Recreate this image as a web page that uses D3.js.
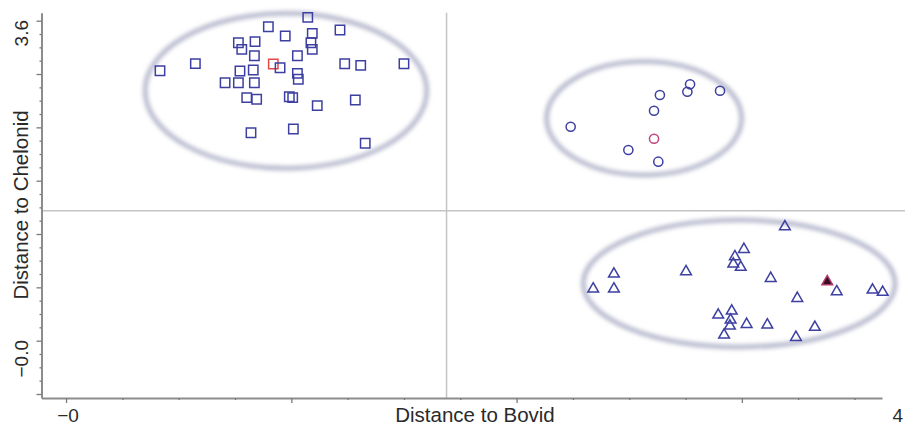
<!DOCTYPE html>
<html>
<head>
<meta charset="utf-8">
<script src="https://cdn.jsdelivr.net/npm/d3@7"></script>
<style>
  body { margin: 0; background: #fff; }
  svg { display: block; font-family: "Liberation Sans", Arial, Helvetica, sans-serif; }
</style>
</head>
<body>
<svg id="chart" width="905" height="426"></svg>
<script>
// Group 1 (squares): distance to Bovid / distance to Chelonid
const squareX = [0.417, 0.574, 0.898, 1.073, 1.216, 0.973, 1.093, 0.765, 0.839, 0.780,
                 1.087, 1.093, 0.836, 1.027, 0.920, 0.950, 0.772, 0.831, 1.027, 1.031,
                 1.237, 1.308, 1.500, 0.706, 0.765, 0.836, 0.802, 0.846, 0.991, 1.006,
                 1.115, 1.284, 0.821, 1.009, 1.328];
const squareY = [3.037, 3.117, 3.532, 3.638, 3.495, 3.428, 3.458, 3.352, 3.364, 3.278,
                 3.352, 3.278, 3.206, 3.206, 3.113, 3.071, 3.034, 3.045, 3.008, 2.941,
                 3.116, 3.098, 3.116, 2.902, 2.902, 2.902, 2.734, 2.716, 2.745, 2.734,
                 2.644, 2.708, 2.340, 2.382, 2.221];
const squareRefIndex = 14;

// Group 2 (circles)
const circleX = [2.240, 2.496, 2.629, 2.610, 2.610, 2.636, 2.758, 2.770, 2.903];
const circleY = [2.407, 2.145, 2.014, 2.272, 2.587, 2.764, 2.801, 2.884, 2.812];
const circleRefIndex = 3;

// Group 3 (triangles)
const triangleX = [2.340, 2.432, 2.432, 2.752, 3.191, 3.009, 2.969, 2.962, 2.995, 3.128,
                   3.379, 3.421, 3.580, 3.625, 3.246, 2.895, 2.955, 2.950, 2.947, 3.021,
                   3.113, 3.324, 2.921, 3.240];
const triangleY = [0.582, 0.750, 0.582, 0.776, 1.282, 1.028, 0.945, 0.863, 0.826, 0.702,
                   0.664, 0.551, 0.570, 0.545, 0.477, 0.289, 0.334, 0.233, 0.165, 0.184,
                   0.177, 0.151, 0.064, 0.038];
const triangleRefIndex = 10;

// Group ellipses: centre and radii in data units
const ellipseCX = [0.976, 2.566, 2.988];
const ellipseCY = [2.811, 2.502, 0.643];
const ellipseRX = [0.625, 0.433, 0.692];
const ellipseRY = [0.872, 0.638, 0.714];

// Divider lines between the groups
const dividerX = 1.689;
const dividerY = 1.462;

// Axis ticks and labels
const xMajorTicks = [0, 1, 2, 3];
const xMinorTicks = [0.25, 0.5, 0.75, 1.25, 1.5, 1.75, 2.25, 2.5, 2.75, 3.25, 3.5];
const yMajorTicks = [-0.6, 0, 0.6, 1.2, 1.8, 2.4, 3.0, 3.6];
const yMinorTicks = [-0.45, -0.3, -0.15, 0.15, 0.3, 0.45, 0.75, 0.9, 1.05, 1.35, 1.5, 1.65,
                     1.95, 2.1, 2.25, 2.55, 2.7, 2.85, 3.15, 3.3, 3.45];
const xTickLabels = ["−0", "4"];
const xTickLabelValues = [0, 4];
const yTickLabels = ["−0.0", "3.6"];
const yTickLabelValues = [0, 3.6];
const xTitle = "Distance to Bovid";
const yTitle = "Distance to Chelonid";

const svg = d3.select("#chart");
const W = 905, H = 426;

const x = d3.scaleLinear().domain([-0.109, 3.622]).range([41.5, 882]);
const y = d3.scaleLinear().domain([-0.645, 3.69]).range([398, 12.7]);
// tick-label positions along the bottom edge
const xLabel = d3.scaleLinear().domain([0, 4]).range([x(0) + 2, 903]);

const markColor = "#3d40a0";
const lineGray = "#c4c4c4";
const axisGray = "#8c8c8c";
const textColor = "#2a2a2a";
const labelBaseline = 421.5;

// soft glow for the group ellipses
const defs = svg.append("defs");
defs.append("filter").attr("id", "soft")
  .attr("x", "-10%").attr("y", "-10%").attr("width", "120%").attr("height", "120%")
  .append("feGaussianBlur").attr("stdDeviation", 2);

// divider lines
svg.append("line")
  .attr("x1", x(dividerX)).attr("x2", x(dividerX))
  .attr("y1", y.range()[1]).attr("y2", y.range()[0])
  .attr("stroke", lineGray).attr("stroke-width", 1.5);
svg.append("line")
  .attr("x1", x.range()[0]).attr("x2", W)
  .attr("y1", y(dividerY)).attr("y2", y(dividerY))
  .attr("stroke", lineGray).attr("stroke-width", 1.5);

// group ellipses
svg.append("g").attr("filter", "url(#soft)")
  .selectAll("ellipse").data(d3.range(ellipseCX.length)).join("ellipse")
  .attr("cx", i => x(ellipseCX[i]))
  .attr("cy", i => y(ellipseCY[i]))
  .attr("rx", i => x(ellipseCX[i] + ellipseRX[i]) - x(ellipseCX[i]))
  .attr("ry", i => y(ellipseCY[i]) - y(ellipseCY[i] + ellipseRY[i]))
  .attr("fill", "none")
  .attr("stroke", "#b3b6cb")
  .attr("stroke-width", 4.5);

// axes
function styleAxis(g) {
  g.select(".domain").attr("stroke", axisGray).attr("stroke-width", 2);
  g.selectAll(".tick line").attr("stroke", "#7a7a7a").attr("stroke-width", 1.3);
  g.selectAll(".tick text").remove();
}
const yAxisX = x.range()[0];
const xAxisY = y.range()[0];

svg.append("g").attr("transform", `translate(${yAxisX},0)`)
  .call(d3.axisLeft(y).tickValues(yMajorTicks).tickSize(5).tickSizeOuter(0).tickFormat(""))
  .call(styleAxis);
svg.append("g").attr("transform", `translate(${yAxisX},0)`)
  .call(d3.axisLeft(y).tickValues(yMinorTicks).tickSize(2).tickSizeOuter(0).tickFormat(""))
  .call(g => g.select(".domain").remove())
  .call(styleAxis);

svg.append("g").attr("transform", `translate(0,${xAxisY})`)
  .call(d3.axisBottom(x).tickValues(xMajorTicks).tickSize(5).tickSizeOuter(0).tickFormat(""))
  .call(styleAxis);
svg.append("g").attr("transform", `translate(0,${xAxisY})`)
  .call(d3.axisBottom(x).tickValues(xMinorTicks).tickSize(2).tickSizeOuter(0).tickFormat(""))
  .call(g => g.select(".domain").remove())
  .call(styleAxis);

// tick labels
svg.append("g").selectAll("text").data(xTickLabels).join("text")
  .attr("x", (d, i) => xLabel(xTickLabelValues[i]))
  .attr("y", labelBaseline)
  .attr("text-anchor", (d, i) => i === xTickLabels.length - 1 ? "end" : "middle")
  .attr("font-size", 19).attr("fill", textColor)
  .text(d => d);

svg.append("g").selectAll("text").data(yTickLabels).join("text")
  .attr("transform", (d, i) => `translate(28,${y(yTickLabelValues[i]) - 0.7}) rotate(-90)`)
  .attr("text-anchor", "end")
  .attr("font-size", 19).attr("fill", textColor)
  .text(d => d);

// axis titles
svg.append("text")
  .attr("x", 475).attr("y", labelBaseline)
  .attr("text-anchor", "middle")
  .attr("font-size", 20.5).attr("fill", textColor)
  .text(xTitle);
svg.append("text")
  .attr("transform", "translate(28,205) rotate(-90)")
  .attr("text-anchor", "middle")
  .attr("font-size", 20.5).attr("fill", textColor)
  .text(yTitle);

// markers
const squarePath = d3.symbol().type(d3.symbolSquare).size(88)();
const circlePath = d3.symbol().type(d3.symbolCircle).size(66)();
const trianglePath = d3.symbol().type(d3.symbolTriangle).size(50)();

svg.append("g").selectAll("path").data(d3.range(squareX.length)).join("path")
  .attr("d", squarePath)
  .attr("transform", i => `translate(${x(squareX[i])},${y(squareY[i])})`)
  .attr("fill", "none")
  .attr("stroke", i => i === squareRefIndex ? "#e5484a" : markColor)
  .attr("stroke-width", 1.5);

svg.append("g").selectAll("path").data(d3.range(circleX.length)).join("path")
  .attr("d", circlePath)
  .attr("transform", i => `translate(${x(circleX[i])},${y(circleY[i])})`)
  .attr("fill", "none")
  .attr("stroke", i => i === circleRefIndex ? "#c2467f" : markColor)
  .attr("stroke-width", 1.5);

svg.append("g").selectAll("path").data(d3.range(triangleX.length)).join("path")
  .attr("d", trianglePath)
  .attr("transform", i => `translate(${x(triangleX[i])},${y(triangleY[i])})`)
  .attr("fill", i => i === triangleRefIndex ? "#3a0c20" : "none")
  .attr("stroke", i => i === triangleRefIndex ? "#b23a70" : markColor)
  .attr("stroke-width", 1.5);
</script>
</body>
</html>
